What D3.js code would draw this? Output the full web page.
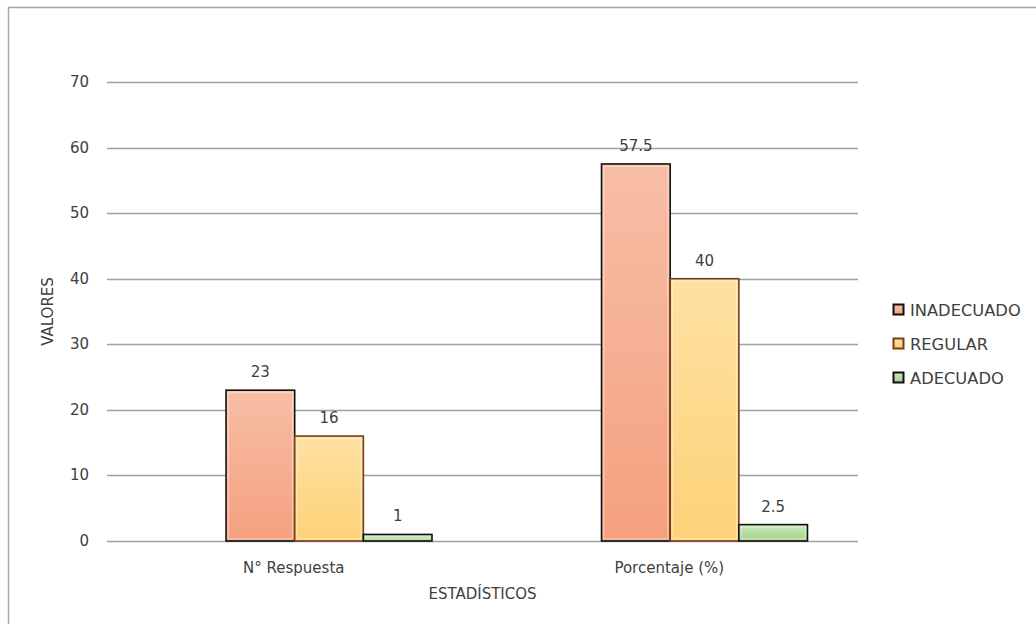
<!DOCTYPE html>
<html><head><meta charset="utf-8">
<script src="https://cdn.jsdelivr.net/npm/d3@7"></script>
<style>body{margin:0;background:#fff;} text{font-family:"DejaVu Sans",sans-serif;}</style>
</head><body>
<svg id="chart" width="1036" height="624"></svg>
<script>
const categories = ["N° Respuesta", "Porcentaje (%)"];
const seriesNames = ["INADECUADO", "REGULAR", "ADECUADO"];
const inadecuado = [23, 57.5];
const regular = [16, 40];
const adecuado = [1, 2.5];
const yTicks = [0, 10, 20, 30, 40, 50, 60, 70];
const seriesValues = [inadecuado, regular, adecuado];

(function () {
const fills = [["#f7bea5", "#f4a07f"], ["#fee1a3", "#fdd278"], ["#cbe8bc", "#a6cf8b"]];
const strokes = ["#111", "#7a3c12", "#111"];

const svg = d3.select("#chart");
const defs = svg.append("defs");
fills.forEach((f, i) => {
  const g = defs.append("linearGradient").attr("id", "g" + i).attr("x1", 0).attr("y1", 0).attr("x2", 0).attr("y2", 1);
  g.append("stop").attr("offset", "0%").attr("stop-color", f[0]);
  g.append("stop").attr("offset", "100%").attr("stop-color", f[1]);
});

// outer frame
svg.append("rect").attr("x", 8.5).attr("y", 7.5).attr("width", 1200).attr("height", 800)
  .attr("fill", "none").attr("stroke", "#a6a6a6").attr("stroke-width", 1.5);

const pLeft = 107, pRight = 858, pTop = 82, pBottom = 541;
const y = d3.scaleLinear().domain([0, 70]).range([pBottom, pTop]);
const x0 = d3.scaleBand().domain(categories).range([pLeft, pRight]).padding(0);
const bw = x0.bandwidth();
const x1 = d3.scaleBand().domain(seriesNames).range([bw * 0.317, bw * 0.8655]).padding(0);

// gridlines
svg.append("g").selectAll("line").data(yTicks).join("line")
  .attr("x1", pLeft).attr("x2", pRight)
  .attr("y1", d => Math.round(y(d)) + 0.5).attr("y2", d => Math.round(y(d)) + 0.5)
  .attr("stroke", "#a0a0a0").attr("stroke-width", 1.3);

// y tick labels
svg.append("g").selectAll("text").data(yTicks).join("text")
  .attr("x", 89).attr("y", d => y(d) + 5)
  .attr("text-anchor", "end").attr("font-size", 15).attr("fill", "#404040")
  .text(d => d);

// bars
categories.forEach((c, ci) => {
  seriesNames.forEach((s, si) => {
    const v = seriesValues[si][ci];
    const bx = x0(c) + x1(s);
    const by = y(v);
    const h = y(0) - y(v);
    const w = x1.bandwidth();
    svg.append("rect").attr("x", bx).attr("y", by).attr("width", w).attr("height", h)
      .attr("fill", `url(#g${si})`).attr("stroke", strokes[si]).attr("stroke-width", 1.6);
    if (h > 6) {
      svg.append("rect").attr("x", bx + 2.2).attr("y", by + 2.2).attr("width", w - 4.4).attr("height", h - 4.4)
        .attr("fill", "none").attr("stroke", "#fff").attr("stroke-opacity", 0.35).attr("stroke-width", 1.5);
    }
    svg.append("text").attr("x", bx + w / 2).attr("y", by - 13)
      .attr("text-anchor", "middle").attr("font-size", 15).attr("fill", "#404040").text(v);
  });
});

// category labels
svg.append("g").selectAll("text").data(categories).join("text")
  .attr("x", d => x0(d) + bw / 2 - 1).attr("y", 573)
  .attr("text-anchor", "middle").attr("font-size", 15).attr("fill", "#404040").text(d => d);

// axis titles
svg.append("text").attr("x", (pLeft + pRight) / 2).attr("y", 599).attr("text-anchor", "middle")
  .attr("font-size", 15).attr("fill", "#404040").text("ESTADÍSTICOS");
svg.append("text").attr("transform", `translate(53,${(pTop + pBottom) / 2}) rotate(-90)`)
  .attr("text-anchor", "middle").attr("font-size", 15).attr("fill", "#404040").text("VALORES");

// legend
const lg = svg.append("g");
seriesNames.forEach((s, i) => {
  const cy = 310 + i * 34;
  lg.append("rect").attr("x", 893.5).attr("y", cy - 5.5).attr("width", 10).attr("height", 10)
    .attr("fill", `url(#g${i})`).attr("stroke", strokes[i]).attr("stroke-width", 2);
  lg.append("text").attr("x", 910).attr("y", cy + 6).attr("font-size", 16.3).attr("fill", "#404040").text(s);
});
})();
</script>
</body></html>
